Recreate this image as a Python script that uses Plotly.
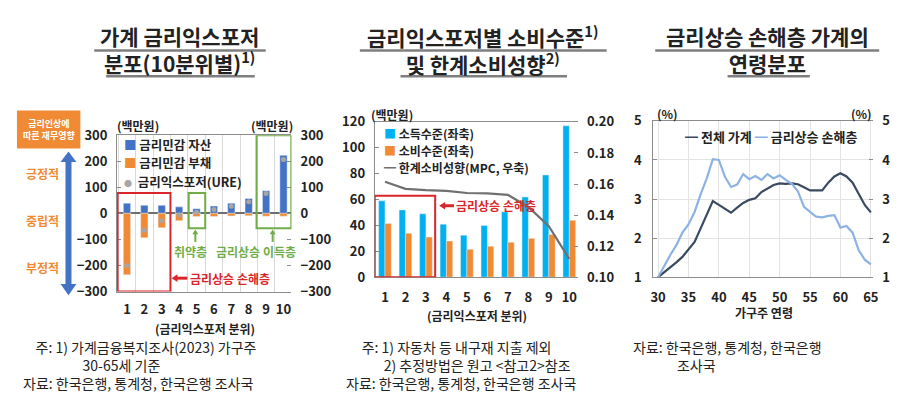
import plotly.graph_objects as go

# ---------------- data ----------------
deciles = [1, 2, 3, 4, 5, 6, 7, 8, 9, 10]
asset = [39, 31, 31, 25, 18, 28, 39, 57, 87, 223]
liability = [-236, -94, -55, -28, -12, -12, -10, -9, -11, -11]
ure = [-200, -65, -28, -6, 4, 15, 27, 45, 76, 207]

income = [59, 52, 49, 41, 32.5, 40, 50.5, 62, 79, 117]
consumption = [41.5, 34, 31, 28, 21.5, 24, 27, 30, 33, 44]
mpc = [0.1614, 0.1569, 0.1561, 0.1556, 0.1542, 0.1540, 0.1530, 0.1452, 0.1329, 0.1117]

ages = list(range(30, 66))
all_hh = [1.00, 1.12, 1.25, 1.38, 1.52, 1.70, 1.90, 2.25, 2.60, 2.95,
          2.85, 2.75, 2.65, 2.78, 2.90, 2.98, 3.02, 3.18, 3.28, 3.36,
          3.40, 3.39, 3.40, 3.38, 3.30, 3.22, 3.22, 3.22, 3.42, 3.58,
          3.66, 3.58, 3.42, 3.12, 2.85, 2.66]
loss_hh = [1.00, 1.30, 1.57, 1.82, 2.14, 2.35, 2.67, 3.12, 3.53, 4.02,
           4.00, 3.57, 3.31, 3.37, 3.64, 3.51, 3.59, 3.49, 3.64, 3.53,
           3.61, 3.49, 3.39, 3.20, 2.80, 2.67, 2.55, 2.53, 2.57, 2.59,
           2.27, 2.31, 2.14, 1.69, 1.45, 1.33]

y1_ticks = [-300, -200, -100, 0, 100, 200, 300]
y3_ticks = [0, 20, 40, 60, 80, 100, 120]
y4_ticks = [0.10, 0.12, 0.14, 0.16, 0.18, 0.20]
y5_ticks = [1, 2, 3, 4, 5]
x3_ticks = [30, 35, 40, 45, 50, 55, 60, 65]

# ---------------- style ----------------
FONT = "Noto Sans CJK KR"
C_ASSET = "#4472C4"
C_LIAB = "#F08A34"
C_URE = "#A6A6A6"
C_INC = "#00B0F0"
C_CONS = "#F08A34"
C_MPC = "#707070"
C_ALL = "#3A4A60"
C_LOSS = "#8DB3E2"
RED = "#D9262B"
GREEN = "#70AD47"
TXT = "#222222"
AX = "#8C8C8C"


def px(x):
    return x / 900.0


def py(y):
    return 1 - y / 404.0


fig = go.Figure()

# Panel 1
fig.add_trace(go.Bar(x=deciles, y=asset, marker_color=C_ASSET, width=0.42,
                     xaxis="x", yaxis="y", showlegend=False))
fig.add_trace(go.Bar(x=deciles, y=liability, marker_color=C_LIAB, width=0.42,
                     xaxis="x", yaxis="y", showlegend=False))
fig.add_trace(go.Scatter(x=deciles, y=ure, mode="markers",
                         marker=dict(color=C_URE, size=5),
                         xaxis="x", yaxis="y2", showlegend=False))

# Panel 2
fig.add_trace(go.Bar(x=deciles, y=income, marker_color=C_INC, width=0.31, offset=-0.31,
                     xaxis="x2", yaxis="y3", showlegend=False))
fig.add_trace(go.Bar(x=deciles, y=consumption, marker_color=C_CONS, width=0.31, offset=0.0,
                     xaxis="x2", yaxis="y3", showlegend=False))
fig.add_trace(go.Scatter(x=deciles, y=mpc, mode="lines",
                         line=dict(color=C_MPC, width=2.2),
                         xaxis="x2", yaxis="y4", showlegend=False))

# Panel 3
fig.add_trace(go.Scatter(x=ages, y=all_hh, mode="lines",
                         line=dict(color=C_ALL, width=2.2),
                         xaxis="x3", yaxis="y5", showlegend=False))
fig.add_trace(go.Scatter(x=ages, y=loss_hh, mode="lines",
                         line=dict(color=C_LOSS, width=2.2),
                         xaxis="x3", yaxis="y6", showlegend=False))

tickfont = dict(family=FONT, size=13, color=TXT, weight=700)

fig.update_layout(
    width=900, height=404,
    margin=dict(l=0, r=0, t=0, b=0),
    paper_bgcolor="white", plot_bgcolor="white",
    barmode="overlay",
    showlegend=False,
    font=dict(family=FONT, color=TXT),
    # panel 1
    xaxis=dict(domain=[px(107), px(283)], range=[0.43, 10.46], anchor="y",
               tickvals=deciles, ticks="", showgrid=False, zeroline=False,
               tickfont=tickfont, showline=True, linecolor=AX, mirror=True,
               ticklabelstandoff=6,
               minor=dict(tick0=0.5, dtick=1, showgrid=True, gridcolor="#D9D9D9", gridwidth=1)),
    yaxis=dict(domain=[py(287), py(123)], range=[-300, 300], anchor="x",
               tickvals=y1_ticks, ticks="inside", ticklen=4, tickcolor=AX,
               showgrid=False, zeroline=True, zerolinecolor="#6E6E6E", zerolinewidth=1.5,
               tickfont=tickfont, showline=True, linecolor=AX, ticklabelstandoff=6),
    yaxis2=dict(range=[-300, 300], overlaying="y", side="right", anchor="x",
                tickvals=y1_ticks, ticks="inside", ticklen=4, tickcolor=AX,
                showgrid=False, zeroline=False, tickfont=tickfont, ticklabelstandoff=8),
    # panel 2
    xaxis2=dict(domain=[px(367), px(572)], range=[0.5, 10.42], anchor="y3",
                tickvals=deciles, ticks="", showgrid=False, zeroline=False,
                tickfont=tickfont, showline=True, linecolor=AX, mirror=True,
                ticklabelstandoff=8),
    yaxis3=dict(domain=[py(272), py(109)], range=[0, 120], anchor="x2",
                tickvals=y3_ticks, ticks="inside", ticklen=4, tickcolor=AX,
                showgrid=False, zeroline=False, tickfont=tickfont,
                showline=True, linecolor=AX, ticklabelstandoff=6),
    yaxis4=dict(range=[0.10, 0.20], overlaying="y3", side="right", anchor="x2",
                tickvals=y4_ticks, tickformat=".2f", ticks="inside", ticklen=4,
                tickcolor=AX, showgrid=False, zeroline=False, tickfont=tickfont,
                ticklabelstandoff=8),
    # panel 3
    xaxis3=dict(domain=[px(648), px(870)], range=[29.2, 65.4], anchor="y5",
                tickvals=x3_ticks, ticks="", showgrid=True, gridcolor="#E3E3E3",
                zeroline=False, tickfont=tickfont, showline=True, linecolor=AX,
                mirror=True, ticklabelstandoff=8),
    yaxis5=dict(domain=[py(272), py(108)], range=[1, 5], anchor="x3",
                tickvals=y5_ticks, ticks="inside", ticklen=4, tickcolor=AX,
                showgrid=True, gridcolor="#E3E3E3", zeroline=False, tickfont=tickfont,
                showline=True, linecolor=AX, ticklabelstandoff=8),
    yaxis6=dict(range=[1, 5], overlaying="y5", side="right", anchor="x3",
                tickvals=y5_ticks, ticks="inside", ticklen=4, tickcolor=AX,
                showgrid=False, zeroline=False, tickfont=tickfont, ticklabelstandoff=8),
)

ann = []
shapes = []


def text(x, y, s, size=12, color=TXT, xanchor="center", weight=400, align="center",
         yanchor="middle"):
    ann.append(dict(x=px(x), y=py(y), xref="paper", yref="paper", text=s,
                    showarrow=False, xanchor=xanchor, yanchor=yanchor, align=align,
                    font=dict(family=FONT, size=size, color=color, weight=weight)))


def hline(x0, x1, y, color="#7F7F7F", width=2.5):
    shapes.append(dict(type="line", xref="paper", yref="paper",
                       x0=px(x0), x1=px(x1), y0=py(y), y1=py(y),
                       line=dict(color=color, width=width)))


def nb(n):
    return "&nbsp;" * n


# ---- titles ----
TS = 21
text(170, 33, "가계 금리익스포저<br>분포(10분위별)<sup>1)</sup>", size=TS, weight=700)
hline(84, 257, 34)
hline(96, 246, 61)
text(476, 33, "금리익스포저별 소비수준<sup>1)</sup><br>및 한계소비성향<sup>2)</sup>", size=TS, weight=700)
hline(352, 601, 34)
hline(393, 561, 61)
text(763, 33, "금리상승 손해층 가계의<br>연령분포", size=TS, weight=700)
hline(650, 876, 34)
hline(723, 806, 61)

# ---- panel 1 decorations ----
shapes.append(dict(type="rect", xref="paper", yref="paper",
                   x0=px(6), x1=px(70), y0=py(137), y1=py(97),
                   fillcolor="#F08A34", line=dict(width=0)))
text(38, 117, "금리인상에<br>따른 재무영향", size=9, color="white", weight=700)
# double arrow
shapes.append(dict(type="line", xref="paper", yref="paper",
                   x0=px(58), x1=px(58), y0=py(150), y1=py(280),
                   line=dict(color=C_ASSET, width=6)))
shapes.append(dict(type="path", xref="paper", yref="paper",
                   path=f"M {px(50)} {py(151)} L {px(66)} {py(151)} L {px(58)} {py(140)} Z",
                   fillcolor=C_ASSET, line=dict(width=0)))
shapes.append(dict(type="path", xref="paper", yref="paper",
                   path=f"M {px(50)} {py(279)} L {px(66)} {py(279)} L {px(58)} {py(291)} Z",
                   fillcolor=C_ASSET, line=dict(width=0)))
text(32, 163, "긍정적", size=12, color="#F08A34", weight=700)
text(32, 212, "중립적", size=12, color="#F08A34", weight=700)
text(32, 262, "부정적", size=12, color="#F08A34", weight=700)

text(128, 113, "(백만원)", size=12, weight=700)
text(263, 113, "(백만원)", size=12, weight=700)

# legend panel 1
text(112, 133, f"<span style='color:{C_ASSET}'>■</span> 금리민감 자산", size=12.5, xanchor="left", weight=700)
text(112, 152, f"<span style='color:{C_LIAB}'>■</span> 금리민감 부채", size=12.5, xanchor="left", weight=700)
text(112, 172, f"<span style='color:{C_URE}; font-size:8px'>●</span>  금리익스포저(URE)", size=12.5, xanchor="left", weight=700)

# boxes panel 1 (data coords)
shapes.append(dict(type="rect", xref="x", yref="y", x0=0.46, x1=3.5, y0=-300, y1=78,
                   line=dict(color=RED, width=2), fillcolor="rgba(0,0,0,0)"))
shapes.append(dict(type="rect", xref="x", yref="y", x0=4.55, x1=5.5, y0=-57, y1=78,
                   line=dict(color=GREEN, width=2), fillcolor="rgba(0,0,0,0)"))
shapes.append(dict(type="rect", xref="x", yref="y", x0=8.45, x1=10.45, y0=-57, y1=300,
                   line=dict(color=GREEN, width=2), fillcolor="rgba(0,0,0,0)"))
# green up arrows
for xx in (186, 264):
    shapes.append(dict(type="line", xref="paper", yref="paper",
                       x0=px(xx), x1=px(xx), y0=py(235), y1=py(225),
                       line=dict(color=GREEN, width=2)))
    shapes.append(dict(type="path", xref="paper", yref="paper",
                       path=f"M {px(xx-3)} {py(227)} L {px(xx+3)} {py(227)} L {px(xx)} {py(222)} Z",
                       fillcolor=GREEN, line=dict(width=0)))
text(181, 245, "취약층", size=12, color=GREEN, weight=700)
text(247, 245, "금리상승 이득층", size=12, color=GREEN, weight=700)
# red arrow + text
shapes.append(dict(type="line", xref="paper", yref="paper",
                   x0=px(166), x1=px(178), y0=py(273), y1=py(273),
                   line=dict(color=RED, width=3)))
shapes.append(dict(type="path", xref="paper", yref="paper",
                   path=f"M {px(168)} {py(269)} L {px(168)} {py(277)} L {px(162)} {py(273)} Z",
                   fillcolor=RED, line=dict(width=0)))
text(179, 273, "금리상승 손해층", size=12, color=RED, xanchor="left", weight=700)

text(196, 326, "(금리익스포저 분위)", size=12, weight=700)

# ---- panel 2 decorations ----
text(384, 101, "(백만원)", size=12, weight=700)
text(374, 121, f"<span style='color:{C_INC}'>■</span> 소득수준(좌축)", size=12, xanchor="left", weight=700)
text(374, 139, f"<span style='color:{C_CONS}'>■</span> 소비수준(좌축)", size=12, xanchor="left", weight=700)
text(374, 157, f"<span style='color:{C_MPC}'>━</span> 한계소비성향(MPC, 우축)", size=12, xanchor="left", weight=700)
shapes.append(dict(type="rect", xref="x2", yref="y3", x0=0.5, x1=3.45, y0=0, y1=63,
                   line=dict(color=RED, width=2), fillcolor="rgba(0,0,0,0)"))
shapes.append(dict(type="line", xref="paper", yref="paper",
                   x0=px(436), x1=px(447), y0=py(197), y1=py(197),
                   line=dict(color=RED, width=3)))
shapes.append(dict(type="path", xref="paper", yref="paper",
                   path=f"M {px(438)} {py(193)} L {px(438)} {py(201)} L {px(432)} {py(197)} Z",
                   fillcolor=RED, line=dict(width=0)))
text(447, 197, "금리상승 손해층", size=12, color=RED, xanchor="left", weight=700)
text(470, 312, "(금리익스포저 분위)", size=12, weight=700)

# ---- panel 3 decorations ----
text(662, 100, "(%)", size=12, weight=700)
text(858, 100, "(%)", size=12, weight=700)
text(678, 124, f"<span style='color:{C_ALL}'>━</span> 전체 가계 <span style='color:{C_LOSS}'>━</span> 금리상승 손해층",
     size=13, xanchor="left", weight=700)
text(760, 309, "가구주 연령", size=12, weight=700)

# ---- notes ----
NS = 14
text(10, 364,
     nb(4) + "주: 1) 가계금융복지조사(2023) 가구주<br>"
     + nb(19) + "30-65세 기준<br>"
     + "자료: 한국은행, 통계청, 한국은행 조사국",
     size=NS, xanchor="left", align="left")
text(336, 364,
     nb(5) + "주: 1) 자동차 등 내구재 지출 제외<br>"
     + nb(12) + "2) 추정방법은 원고 &lt;참고2&gt;참조<br>"
     + "자료: 한국은행, 통계청, 한국은행 조사국",
     size=NS, xanchor="left", align="left")
text(626, 355,
     "자료: 한국은행, 통계청, 한국은행<br>"
     + nb(14) + "조사국",
     size=NS, xanchor="left", align="left")

fig.update_layout(annotations=ann, shapes=shapes)
fig.write_html("out.html")
